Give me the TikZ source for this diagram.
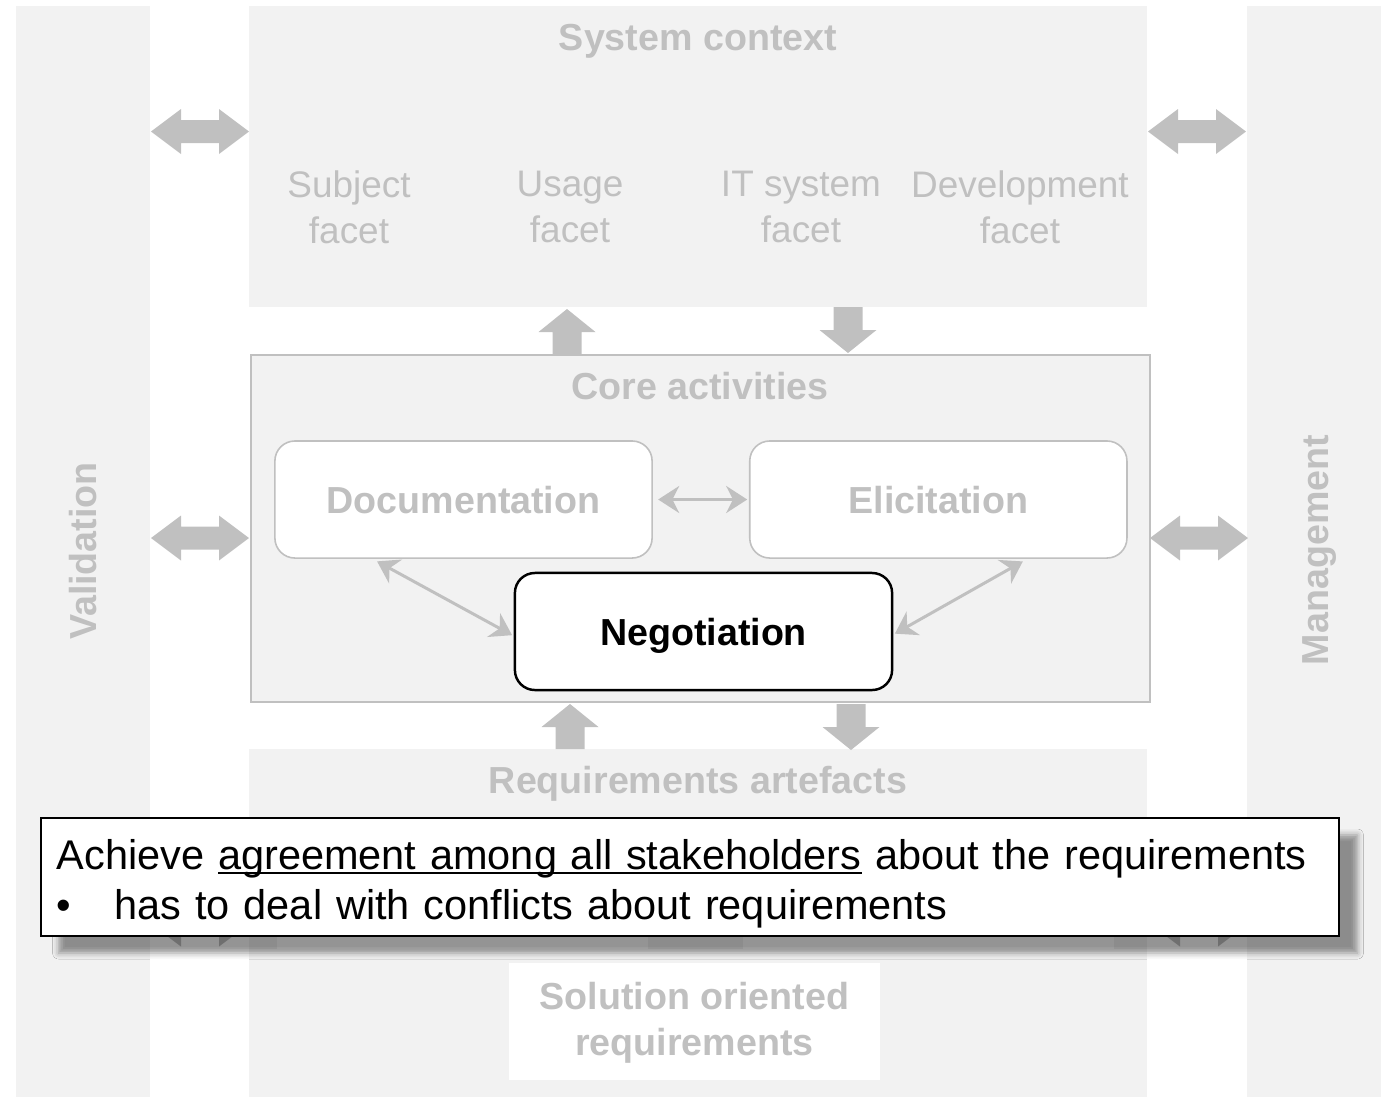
\documentclass[tikz,border=0pt]{standalone}
\usepackage{fontspec}
\setmainfont{Liberation Sans}
\usepackage{tikz}
\usetikzlibrary{positioning, arrows.meta, shadows.blur}
\definecolor{zonegray}{HTML}{F2F2F2}
\definecolor{ghostgray}{HTML}{C0C0C0}
\tikzset{zone/.style={fill=zonegray, draw=none, inner sep=0pt, outer sep=0pt}}
\tikzset{ghost/.style={text=ghostgray, inner sep=0pt, text depth=0pt, font=\fontsize{10.7}{13.1}\selectfont\bfseries, align=center}}
\tikzset{facet/.style={text=ghostgray, inner sep=0pt, font=\fontsize{10.5}{13.1}\selectfont, align=center}}
\tikzset{actbox/.style={draw=ghostgray, line width=0.45pt, fill=white, rounded corners=0.2cm, minimum width=3.77cm, minimum height=1.17cm, inner sep=0pt, text depth=0pt, text=ghostgray, font=\fontsize{10.7}{13.1}\selectfont\bfseries}}
\tikzset{negbox/.style={actbox, draw=black, line width=0.7pt, text=black}}
\tikzset{plainbox/.style={fill=white, draw=none, inner sep=0pt}}
\tikzset{thinarr/.style={draw=ghostgray, line width=0.85pt, <->, >={Stealth[length=0.21cm, width=0.27cm]}, shorten <=1.5pt, shorten >=0.5pt}}
\tikzset{blockarr/.style={fill=ghostgray, draw=none}}
\tikzset{callout/.style={draw=black, line width=0.6pt, fill=white, minimum width=12.98cm, minimum height=1.18cm, text width=12.66cm, inner xsep=0.16cm, inner ysep=0pt, align=left, font=\fontsize{11.8}{14.2}\selectfont, blur shadow={shadow xshift=0.18cm, shadow yshift=-0.17cm, shadow blur radius=0.06cm, shadow opacity=42}}}
% underline that runs through the descenders
\newcommand{\lowline}[1]{\setbox0\hbox{#1}\rlap{\rule[-1.3pt]{\wd0}{0.55pt}}\box0\relax}
% block arrows (pixel units)
\newcommand{\blkbi}[3]{\fill[blockarr] (#1,#3) -- (#1+30,#3-22.5) -- (#1+30,#3-11.5) -- (#2-30,#3-11.5) -- (#2-30,#3-22.5) -- (#2,#3) -- (#2-30,#3+22.5) -- (#2-30,#3+11.5) -- (#1+30,#3+11.5) -- (#1+30,#3+22.5) -- cycle;}
\newcommand{\blkup}[3]{\fill[blockarr] (#1,#2) -- (#1+28.5,#2+23) -- (#1+14.5,#2+23) -- (#1+14.5,#3) -- (#1-14.5,#3) -- (#1-14.5,#2+23) -- (#1-28.5,#2+23) -- cycle;}
\newcommand{\blkdown}[3]{\fill[blockarr] (#1,#3) -- (#1+28.5,#3-23) -- (#1+14.5,#3-23) -- (#1+14.5,#2) -- (#1-14.5,#2) -- (#1-14.5,#3-23) -- (#1-28.5,#3-23) -- cycle;}

\begin{document}
\begin{tikzpicture}[x=0.01cm, y=-0.01cm]
\useasboundingbox (0,0) rectangle (1390,1105);
% zones
\node[zone, minimum width=1.34cm, minimum height=10.91cm] (valcol) at (83,551.5) {};
\node[zone, minimum width=1.34cm, minimum height=10.91cm] (mgmtcol) at (1314,551.5) {};
\node[zone, minimum width=8.98cm, minimum height=3.01cm] (ctx) at (698,156.5) {};
\node[zone, draw=ghostgray, line width=0.55pt, minimum width=8.99cm, minimum height=3.47cm] (core) at (700.5,528.5) {};
\node[zone, minimum width=8.98cm, minimum height=3.48cm] (arte) at (698,923) {};
%
\node[ghost, rotate=90] (val) at (83,551) {Validation};
\node[ghost, rotate=90] (mgmt) at (1316,550) {Management};
\node[ghost] (ctxtitle) at (698,37) {System context};
\node[facet] (subj) at (349,207) {Subject\\facet};
\node[facet] (usage) at (570,207) {Usage\\facet};
\node[facet] (itsys) at (801,207) {IT system\\facet};
\node[facet] (devel) at (1020,207) {Development\\facet};
\node[ghost] (coretitle) at (700,386) {Core activities};
\node[ghost] (artetitle) at (698,780) {Requirements artefacts};
%
\blkbi{151}{249}{131.5}
\blkbi{1148}{1246}{131.5}
\blkbi{151}{249}{538}
\blkbi{1150}{1248}{538}
\blkbi{151}{249}{924}
\blkbi{1150}{1248}{924}
\blkup{567}{309}{354}
\blkdown{848}{307}{353}
\blkup{570}{704}{749}
\blkdown{851}{704}{750}
%
\node[actbox] (doc) at (463.5,499.5) {Documentation};
\node[actbox, right=0.96cm of doc] (elic) {Elicitation};
\node[negbox] (neg) at (703.5,631.5) {Negotiation};
\draw[thinarr] (doc) -- (elic);
\draw[thinarr] ([xshift=-0.91cm]doc.south) -- ([yshift=-0.045cm]neg.west);
\draw[thinarr] ([xshift=0.89cm]elic.south) -- ([yshift=-0.03cm]neg.east);
%
\node[plainbox, minimum width=3.71cm, minimum height=1.17cm] (goalbox) at (462.5,890.5) {};
\node[plainbox, minimum width=3.71cm, minimum height=1.17cm] (scenbox) at (928.5,890.5) {};
\node[plainbox, minimum width=3.71cm, minimum height=1.17cm] (sol) at (694.5,1021.5) {};
\node[ghost] (soltext) at (694.5,1019) {Solution oriented\\requirements};
%
\node[callout] (note) at (690,877) {\rule{0pt}{12.2pt}Achieve \lowline{agreement among all stakeholders} about the requirements\\
\makebox[0.58cm][l]{\textbullet}has to deal with conflicts about requirements};
\end{tikzpicture}
\end{document}
